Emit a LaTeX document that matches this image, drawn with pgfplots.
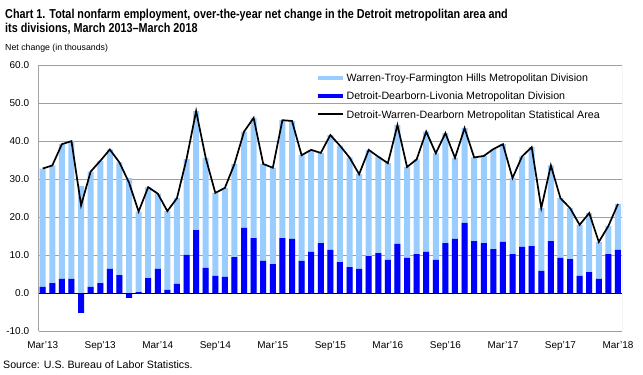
\documentclass[border=0pt]{standalone}
\usepackage{fontspec}
\setmainfont{Liberation Sans}
\newfontfamily\titlefont{Liberation Sans}[FakeStretch=0.835]
\usepackage{pgfplots}
\usepackage{pgfplotstable}
\pgfplotsset{compat=1.18}
\definecolor{lightbar}{RGB}{153,204,255}
\definecolor{darkbar}{RGB}{0,0,255}
\definecolor{gridgray}{RGB}{160,160,160}

% x: month index (0 = Mar 2013), W: Warren-Troy-Farmington Hills,
% D: Detroit-Dearborn-Livonia, T: Detroit-Warren-Dearborn MSA
\pgfplotstableread{
x W D T
0 31.1 1.7 32.8
1 30.9 2.7 33.6
2 35.4 3.8 39.2
3 36.2 3.8 40.0
4 28.2 -5.1 23.1
5 30.3 1.7 32.0
6 32.1 2.7 34.8
7 31.4 6.4 37.8
8 29.6 4.8 34.4
9 30.3 -1.2 29.1
10 21.2 0.3 21.5
11 23.9 4.0 27.9
12 19.8 6.4 26.2
13 20.7 0.9 21.6
14 22.5 2.5 25.0
15 25.2 10.1 35.3
16 31.3 16.6 47.9
17 28.9 6.7 35.6
18 21.8 4.6 26.4
19 23.4 4.3 27.7
20 24.5 9.5 34.0
21 25.3 17.2 42.5
22 31.6 14.5 46.1
23 25.5 8.5 34.0
24 25.3 7.7 33.0
25 31.0 14.5 45.5
26 31.0 14.3 45.3
27 27.8 8.5 36.3
28 26.8 10.9 37.7
29 23.7 13.2 36.9
30 30.2 11.4 41.6
31 30.6 8.2 38.8
32 28.8 6.9 35.7
33 24.9 6.4 31.3
34 27.9 9.8 37.7
35 25.3 10.6 35.9
36 25.4 8.8 34.2
37 31.2 13.0 44.2
38 23.9 9.3 33.2
39 24.9 10.3 35.2
40 31.6 10.9 42.5
41 28.0 8.8 36.8
42 28.9 13.2 42.1
43 21.3 14.3 35.6
44 24.9 18.5 43.4
45 22.0 13.7 35.7
46 22.9 13.2 36.1
47 26.3 11.6 37.9
48 25.7 13.5 39.2
49 20.0 10.3 30.3
50 23.8 12.2 36.0
51 26.0 12.4 38.4
52 16.5 5.9 22.4
53 19.9 13.7 33.6
54 15.7 9.3 25.0
55 13.4 9.0 22.4
56 13.4 4.6 18.0
57 15.5 5.6 21.1
58 9.7 3.8 13.5
59 7.4 10.3 17.7
60 12.1 11.4 23.5
}\data

\begin{document}
\begin{tikzpicture}
\path[use as bounding box] (-38.7bp,-43.6bp) rectangle (604.3bp,331.4bp);
\begin{axis}[
  at={(0,0)}, anchor=south west,
  scale only axis,
  width=583.3bp, height=266.4bp,
  xmin=-0.42, xmax=60.42,
  ymin=-10, ymax=60,
  ytick={-10,0,...,60},
  xtick={0,6,...,60},
  xticklabels={Mar'13,Sep'13,Mar'14,Sep'14,Mar'15,Sep'15,Mar'16,Sep'16,Mar'17,Sep'17,Mar'18},
  major tick length=0pt,
  axis line style={draw=none},
  ymajorgrids,
  grid style={gridgray, line width=0.8bp},
  /pgf/number format/assume math mode=true,
  yticklabel style={/pgf/number format/fixed, /pgf/number format/fixed zerofill, /pgf/number format/precision=1, anchor=east, xshift=-6.1bp, font=\fontsize{10}{12}\selectfont},
  xticklabel style={anchor=base, yshift=-16.6bp, font=\fontsize{10}{12}\selectfont},
  scaled y ticks=false,
  legend cell align=left,
  legend style={at={(rel axis cs:0.4766,0.973)}, anchor=north west, draw=none, fill=none, inner sep=0pt, row sep=6.6bp,
    nodes={inner xsep=3.0bp, inner ysep=0pt, text height=9.5bp, text depth=2bp, font=\fontsize{10.7}{12}\selectfont}},
]
\addplot[ybar, bar width=6bp, bar shift=0pt, fill=lightbar, draw=none,
  legend image code/.code={\fill[lightbar] (0bp,-2.25bp) rectangle (25bp,2.25bp);}]
  table[x=x, y expr={\thisrow{W}+max(\thisrow{D},0)}]{\data};
\addlegendentry{Warren-Troy-Farmington Hills Metropolitan Division}
\addplot[ybar, bar width=6bp, bar shift=0pt, fill=darkbar, draw=none,
  legend image code/.code={\fill[darkbar] (0bp,-2.25bp) rectangle (25bp,2.25bp);}]
  table[x=x, y=D]{\data};
\addlegendentry{Detroit-Dearborn-Livonia Metropolitan Division}
\addplot[black, line width=1.7bp, mark=none,
  legend image code/.code={\draw[black, line width=1.7bp] (0bp,0bp) -- (25bp,0bp);}]
  table[x=x, y=T]{\data};
\addlegendentry{Detroit-Warren-Dearborn Metropolitan Statistical Area}
\draw[black, line width=1bp] (axis cs:-0.42,0) -- (axis cs:60.42,0);
\draw[black, line width=1bp] (rel axis cs:0,0) -- (rel axis cs:0,1);
\draw[gridgray, line width=0.8bp] (rel axis cs:1,0) -- (rel axis cs:1,1);
\end{axis}
\node[anchor=base west, inner sep=0pt, font=\titlefont\bfseries\fontsize{13}{15}\selectfont] at (-33.7bp,313.1bp) {Chart 1. Total nonfarm employment, over-the-year net change in the Detroit metropolitan area and};
\node[anchor=base west, inner sep=0pt, font=\titlefont\bfseries\fontsize{13}{15}\selectfont] at (-33.7bp,299.1bp) {its divisions, March 2013–March 2018};
\node[anchor=base west, inner sep=0pt, font=\fontsize{8.8}{10}\selectfont] at (-33.7bp,280.4bp) {Net change (in thousands)};
\node[anchor=base west, inner sep=0pt, font=\fontsize{10.7}{12}\selectfont] at (-35.7bp,-36.6bp) {Source: U.S. Bureau of Labor Statistics.};
\end{tikzpicture}
\end{document}
